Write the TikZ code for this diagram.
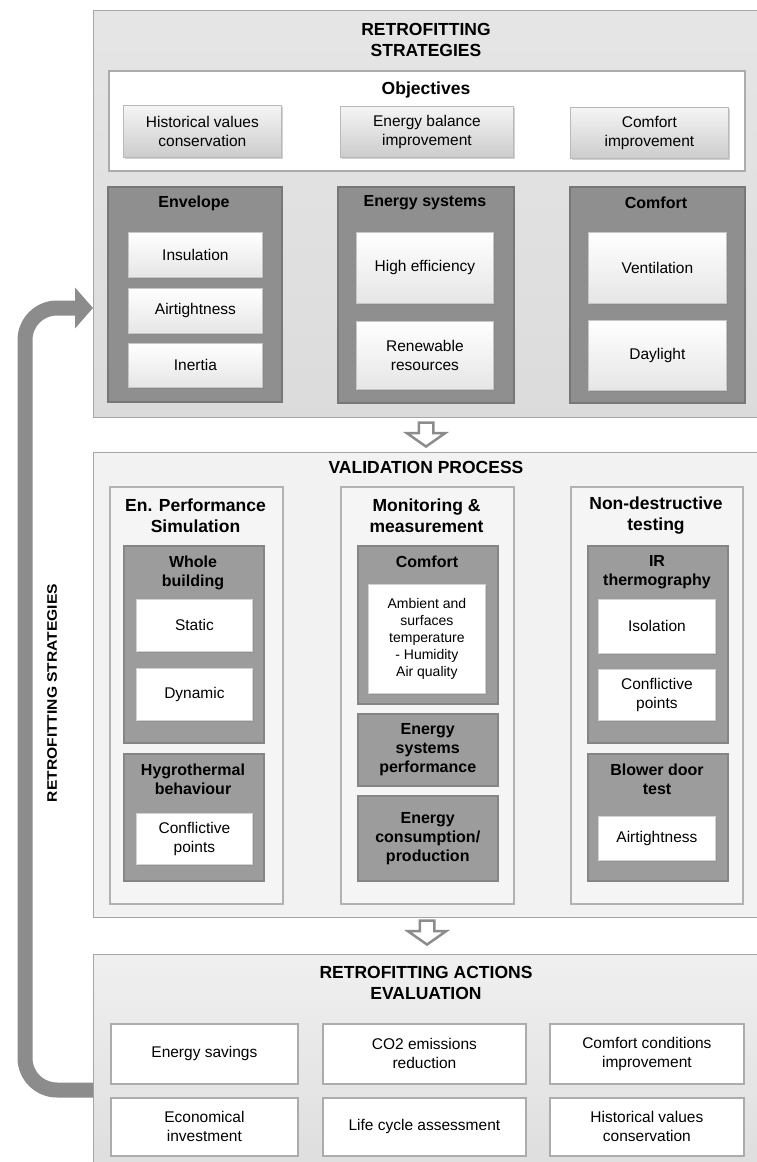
\documentclass[tikz,border=0pt]{standalone}
\usepackage{fontspec}
\setmainfont{Liberation Sans}
\usetikzlibrary{arrows.meta,shapes.arrows,shadows}

\definecolor{panelline}{HTML}{A6A6A6}
\definecolor{darkgroup}{HTML}{8F8F8F}
\definecolor{darkline}{HTML}{777777}
\definecolor{midgroup}{HTML}{9C9C9C}
\definecolor{midline}{HTML}{858585}
\definecolor{arrowgray}{HTML}{8C8C8C}
\colorlet{objline}{gray!65}

\newcommand{\headfont}{\fontsize{17.5}{20.5}\bfseries\selectfont}
\newcommand{\groupfont}{\fontsize{16}{19}\bfseries\selectfont}
\newcommand{\itemfont}{\fontsize{15.5}{19}\selectfont}
\newcommand{\smallfont}{\fontsize{14}{17}\selectfont}

\tikzset{
  panel/.style={draw=panelline, line width=1.2pt, anchor=north west, inner sep=0pt},
  objframe/.style={draw=objline, fill=white, line width=1.6pt, anchor=north west, inner sep=0pt},
  itembox/.style={draw=gray!55, top color=gray!8, bottom color=gray!40, line width=0.8pt,
    anchor=north west, align=center, font=\itemfont, inner sep=2pt,
    drop shadow={opacity=0.35, shadow xshift=1.5pt, shadow yshift=-2pt}},
  groupbox/.style={draw=darkline, fill=darkgroup, line width=1.5pt, anchor=north west, inner sep=0pt},
  vgroup/.style={draw=midline, fill=midgroup, line width=1.5pt, anchor=north west, inner sep=0pt,
    align=center, font=\groupfont},
  innerbox/.style={draw=gray!45, top color=white, bottom color=gray!20, line width=0.8pt,
    anchor=north west, align=center, font=\itemfont, inner sep=2pt,
    drop shadow={opacity=0.35, shadow xshift=1.5pt, shadow yshift=-2pt}},
  whitebox/.style={draw=gray!35, fill=white, line width=0.8pt,
    anchor=north west, align=center, font=\itemfont, inner sep=2pt,
    drop shadow={opacity=0.3, shadow xshift=1.5pt, shadow yshift=-2pt}},
  column/.style={draw=gray!60, fill=gray!8, line width=1.6pt, anchor=north west, inner sep=0pt},
  evalbox/.style={draw=gray!65, fill=white, line width=1.8pt,
    anchor=north west, align=center, font=\itemfont, inner sep=2pt},
  headtitle/.style={font=\headfont, align=center, inner sep=0pt},
  grouptitle/.style={font=\groupfont, align=center, inner sep=0pt},
  downarrow/.style={single arrow, draw=arrowgray, fill=white, line width=2.5pt,
    shape border rotate=270, inner sep=6pt, single arrow head extend=12pt,
    single arrow tip angle=110, minimum height=24pt},
  feedback/.style={draw=arrowgray, line width=15pt, rounded corners=32pt,
    -{Triangle[width=40pt,length=18pt]}},
}

\begin{document}
\begin{tikzpicture}[x=1pt, y=-1pt]

  \useasboundingbox[fill=white] (0,0) rectangle (756,1162);

  % Retrofitting strategies
  \node[panel, top color=gray!20, bottom color=gray!28, minimum width=666, minimum height=407] (strat) at (93,10) {};
  \node[headtitle] (strattitle) at (426,40) {RETROFITTING\\STRATEGIES};

  \node[objframe, minimum width=636, minimum height=100] (obj) at (108,70) {};
  \node[headtitle] (objtitle) at (426,90) {Objectives};
  \node[itembox, minimum width=158, minimum height=52] (hist) at (123,105) {Historical values\\conservation};
  \node[itembox, minimum width=173, minimum height=51] (ebal) at (340,106) {Energy balance\\improvement};
  \node[itembox, minimum width=158, minimum height=51] (cimp) at (570,107) {Comfort\\improvement};

  \node[groupbox, minimum width=174, minimum height=215] (env) at (107,186) {};
  \node[groupbox, minimum width=176, minimum height=216] (esys) at (337,186) {};
  \node[groupbox, minimum width=175, minimum height=216] (cmf) at (569,186) {};
  \node[grouptitle] (envtitle) at (194,203) {Envelope};
  \node[grouptitle] (esystitle) at (425,203) {Energy systems};
  \node[grouptitle] (cmftitle) at (656,203) {Comfort};

  \node[innerbox, minimum width=134, minimum height=45] (ins) at (128,232) {Insulation};
  \node[innerbox, minimum width=134, minimum height=45] (air) at (128,288) {Airtightness};
  \node[innerbox, minimum width=134, minimum height=44] (ine) at (128,343) {Inertia};
  \node[innerbox, minimum width=137, minimum height=71] (heff) at (356,232) {High efficiency};
  \node[innerbox, minimum width=137, minimum height=68] (ren) at (356,321) {Renewable\\resources};
  \node[innerbox, minimum width=138, minimum height=71] (vent) at (588,232) {Ventilation};
  \node[innerbox, minimum width=138, minimum height=70] (day) at (588,320) {Daylight};

  \node[downarrow] (arrowA) at (426,432) {};

  % Validation process
  \node[panel, fill=gray!10, minimum width=666, minimum height=465] (valid) at (93,452) {};
  \node[headtitle] (validtitle) at (426,467) {VALIDATION PROCESS};

  \node[column, minimum width=173, minimum height=417] (sim) at (109,486) {};
  \node[column, minimum width=173, minimum height=417] (mon) at (340,486) {};
  \node[column, minimum width=172, minimum height=417] (ndt) at (570,486) {};
  \node[headtitle] (simtitle) at (195.5,515.5) {En. Performance\\Simulation};
  \node[headtitle] (montitle) at (426.5,515.5) {Monitoring \&\\measurement};
  \node[headtitle] (ndttitle) at (656,515.5) {Non-destructive\\testing};

  \node[vgroup, minimum width=140, minimum height=197] (whole) at (123,545) {};
  \node[grouptitle] (wholetitle) at (193,572.5) {Whole\\building};
  \node[whitebox, minimum width=116, minimum height=52] (static) at (136,599) {Static};
  \node[whitebox, minimum width=116, minimum height=52] (dyn) at (136,668) {Dynamic};
  \node[vgroup, minimum width=140, minimum height=127] (hyg) at (123,753) {};
  \node[grouptitle] (hygtitle) at (193,779.5) {Hygrothermal\\behaviour};
  \node[whitebox, minimum width=116, minimum height=51] (confA) at (136,813) {Conflictive\\points};

  \node[vgroup, minimum width=140, minimum height=158] (moncmf) at (357,545) {};
  \node[grouptitle] (moncmftitle) at (427,562) {Comfort};
  \node[whitebox, minimum width=117, minimum height=109, font=\smallfont] (amb) at (368,584)
    {Ambient and\\surfaces\\temperature\\- Humidity\\Air quality};
  \node[vgroup, minimum width=140, minimum height=72] (esp) at (357,713) {Energy\\systems\\performance};
  \node[vgroup, minimum width=140, minimum height=85] (ecp) at (357,795) {Energy\\consumption/\\production};

  \node[vgroup, minimum width=140, minimum height=197] (ir) at (587,545) {};
  \node[grouptitle] (irtitle) at (657,572) {IR\\thermography};
  \node[whitebox, minimum width=117, minimum height=54] (iso) at (598,599) {Isolation};
  \node[whitebox, minimum width=117, minimum height=51] (confB) at (598,669) {Conflictive\\points};
  \node[vgroup, minimum width=140, minimum height=127] (blow) at (587,753) {};
  \node[grouptitle] (blowtitle) at (657,779) {Blower door\\test};
  \node[whitebox, minimum width=117, minimum height=44] (airB) at (598,816) {Airtightness};

  \node[downarrow] (arrowB) at (427,930) {};

  % Retrofitting actions evaluation
  \node[panel, top color=gray!12, bottom color=gray!26, minimum width=666, minimum height=215] (eval) at (93,954) {};
  \node[headtitle] (evaltitle) at (426,983) {RETROFITTING ACTIONS\\EVALUATION};

  \node[evalbox, minimum width=187, minimum height=60] (save) at (110,1023) {Energy savings};
  \node[evalbox, minimum width=203, minimum height=60] (co2) at (322,1023) {CO2 emissions\\reduction};
  \node[evalbox, minimum width=194, minimum height=60] (ccond) at (549,1023) {Comfort conditions\\improvement};
  \node[evalbox, minimum width=187, minimum height=58] (econ) at (110,1097) {Economical\\investment};
  \node[evalbox, minimum width=203, minimum height=58] (lca) at (322,1097) {Life cycle assessment};
  \node[evalbox, minimum width=194, minimum height=58] (histB) at (549,1097) {Historical values\\conservation};

  % Feedback loop
  \draw[feedback] (eval.west |- 0,1090) -- ++(-68,0) |- (strat.west |- 0,308);
  \node[rotate=90, font=\fontsize{12}{14}\bfseries\selectfont] (fblabel) at (52,693)
    {\scalebox{1.3}[1.15]{RETROFITTING STRATEGIES}};

\end{tikzpicture}
\end{document}
